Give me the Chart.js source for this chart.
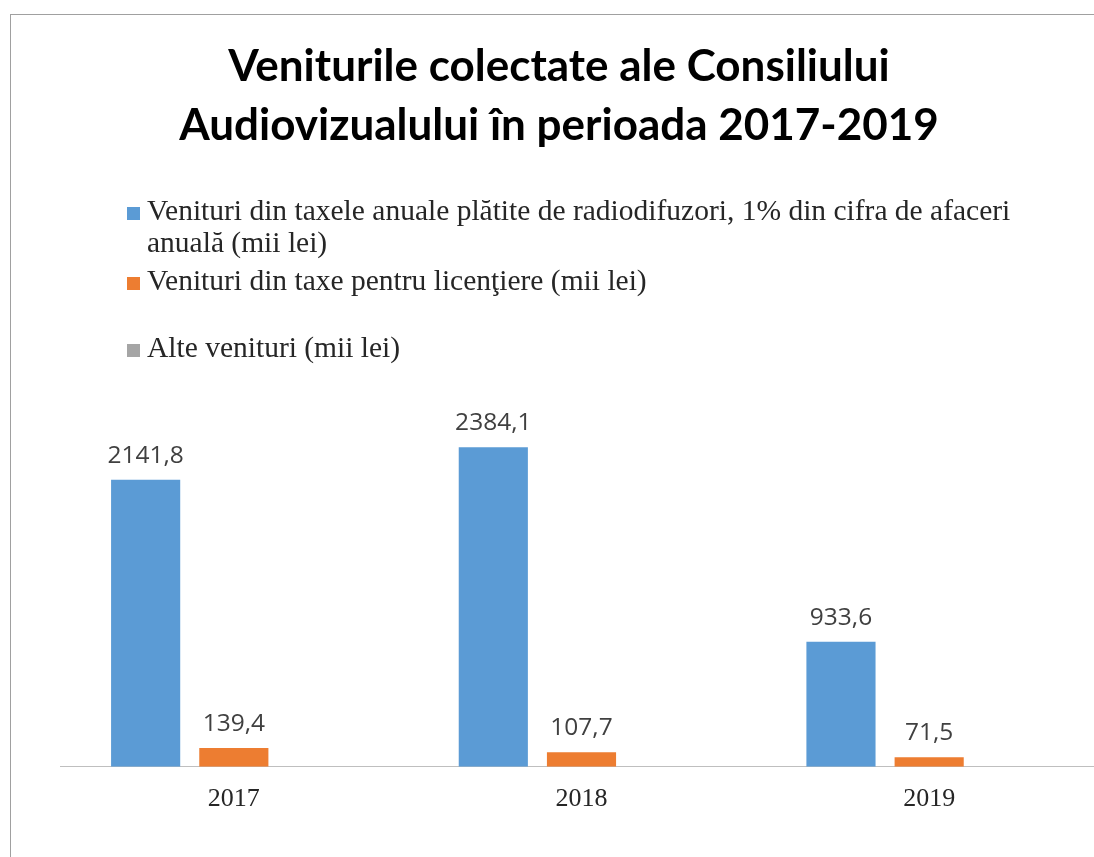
<!DOCTYPE html>
<html>
<head>
<meta charset="utf-8">
<script src="https://cdn.jsdelivr.net/npm/chart.js@4.4.1/dist/chart.umd.min.js"></script>
<style>
  html, body { margin: 0; padding: 0; background: #fff; overflow: hidden; width: 1094px; height: 857px; }
  #frame { position: absolute; left: 10px; top: 14px; width: 1200px; height: 1000px; border: 1px solid #a0a0a0; }
  #wrap { position: absolute; left: 0; top: 0; width: 1110px; height: 857px; }
  #legend { position: absolute; left: 0; top: 0; font-family: "Liberation Serif", "Times New Roman", serif; font-size: 29.5px; line-height: 32px; color: #262626; }
  .item { position: absolute; left: 147px; width: 900px; }
  .item i { position: absolute; left: -20px; top: 13px; width: 13px; height: 13px; }
</style>
</head>
<body>
<div id="frame"></div>
<div id="wrap"><canvas id="chart" width="1110" height="857"></canvas></div>
<div id="legend"></div>
<script>
'use strict';

// data
const years = ['2017', '2018', '2019'];
const seriesNames = [
  'Venituri din taxele anuale plătite de radiodifuzori, 1% din cifra de afaceri anuală (mii lei)',
  'Venituri din taxe pentru licenţiere (mii lei)',
  'Alte venituri (mii lei)'
];
const taxeAnuale = [2141.8, 2384.1, 933.6];
const taxeLicentiere = [139.4, 107.7, 71.5];
const alteVenituri = [null, null, null];

const seriesColors = ['#5B9BD5', '#ED7D31', '#A5A5A5'];
const legendTops = [194, 264, 331];

const fmt = (v) => v.toFixed(1).replace('.', ',');

// value labels above bars
const barLabels = {
  id: 'barLabels',
  afterDatasetsDraw(chart){
    const ctx = chart.ctx;
    ctx.save();
    ctx.font = '24.5px "Open Sans", sans-serif';
    ctx.fillStyle = '#404040';
    ctx.textAlign = 'center';
    ctx.textBaseline = 'alphabetic';
    chart.data.datasets.forEach((ds, i) => {
      chart.getDatasetMeta(i).data.forEach((bar, j) => {
        const v = ds.data[j];
        if (v == null) return;
        ctx.fillText(fmt(v), bar.x, bar.y - 17);
      });
    });
    ctx.restore();
  }
};

const datasets = [taxeAnuale, taxeLicentiere, alteVenituri].map((d, i) => ({
  label: seriesNames[i],
  data: d,
  backgroundColor: seriesColors[i],
  borderWidth: 0,
  categoryPercentage: 0.761,
  barPercentage: 0.784
}));

new Chart(document.getElementById('chart').getContext('2d'), {
  type: 'bar',
  data: { labels: years, datasets },
  plugins: [barLabels],
  options: {
    responsive: false,
    animation: false,
    events: [],
    layout: { padding: { left: 15, right: 7, top: 0, bottom: 33 } },
    plugins: {
      legend: { display: false },
      tooltip: { enabled: false },
      title: {
        display: true,
        text: ['Veniturile colectate ale Consiliului', 'Audiovizualului în perioada 2017-2019'],
        color: '#000',
        font: { family: 'Lato', size: 44, weight: 'bold', lineHeight: 1.34 },
        padding: { top: 37, bottom: 250 }
      }
    },
    scales: {
      x: {
        grid: { display: false },
        border: { display: true, color: '#bfbfbf', width: 1 },
        ticks: { color: '#262626', padding: 9, font: { family: '"Liberation Serif"', size: 26, lineHeight: 1.2 } }
      },
      y: {
        min: 0,
        max: 2700,
        grid: { display: false },
        border: { display: false },
        ticks: { display: false },
        afterFit: (axis) => { axis.width = 45; }
      }
    }
  }
});

// legend (wraps like the original)
const legend = document.getElementById('legend');
seriesNames.forEach((name, i) => {
  const item = document.createElement('div');
  item.className = 'item';
  item.style.top = legendTops[i] + 'px';
  const box = document.createElement('i');
  box.style.background = seriesColors[i];
  item.appendChild(box);
  item.appendChild(document.createTextNode(name));
  legend.appendChild(item);
});
</script>
</body>
</html>
